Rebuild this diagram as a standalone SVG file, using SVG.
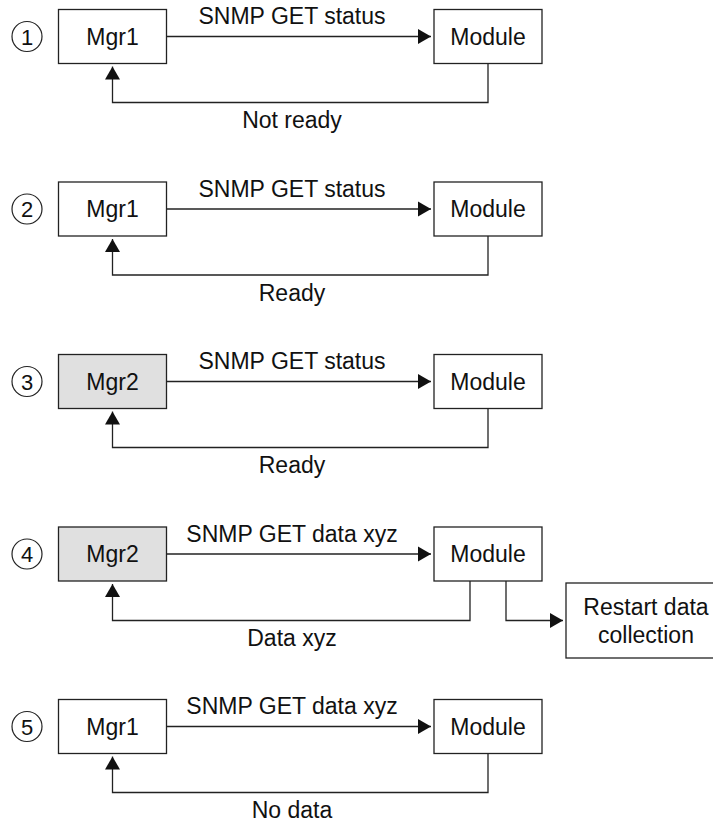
<svg xmlns="http://www.w3.org/2000/svg" width="713" height="825" viewBox="0 0 713 825">
<style>
.box{fill:#fff;stroke:#222;stroke-width:1.3}
.gray{fill:#e0e0e0}
.ln{fill:none;stroke:#222;stroke-width:1.3}
.num{fill:#fff;stroke:#222;stroke-width:1.2}
text{font-family:"Liberation Sans",Arial,Helvetica,sans-serif;font-size:23px;fill:#111;text-anchor:middle}
.d{font-size:22px}
</style>
<defs>
<marker id="ah" markerUnits="userSpaceOnUse" markerWidth="13" markerHeight="17" refX="13" refY="8.5" orient="auto">
<path d="M0,1 L13,8.5 L0,16 z" fill="#111"/>
</marker>
</defs>
<rect width="713" height="825" fill="#fff"/>
<g id="connectors">
<path class="ln" d="M166.5,36.5 H431" marker-end="url(#ah)"/>
<path class="ln" d="M488,63.5 V102.5 H112.5 V66.5" marker-end="url(#ah)"/>
<path class="ln" d="M166.5,209 H431" marker-end="url(#ah)"/>
<path class="ln" d="M488,236 V275 H112.5 V239" marker-end="url(#ah)"/>
<path class="ln" d="M166.5,381.5 H431" marker-end="url(#ah)"/>
<path class="ln" d="M488,408.5 V447.5 H112.5 V411.5" marker-end="url(#ah)"/>
<path class="ln" d="M166.5,554 H431" marker-end="url(#ah)"/>
<path class="ln" d="M470,581 V620.5 H112.5 V584" marker-end="url(#ah)"/>
<path class="ln" d="M506,581 V620.5 H563" marker-end="url(#ah)"/>
<path class="ln" d="M166.5,726.5 H431" marker-end="url(#ah)"/>
<path class="ln" d="M488,753.5 V792.5 H112.5 V756.5" marker-end="url(#ah)"/>
</g>
<g id="labels">
<text x="292" y="24">SNMP GET status</text>
<text x="292" y="128">Not ready</text>
<text x="292" y="196.5">SNMP GET status</text>
<text x="292" y="300.5">Ready</text>
<text x="292" y="369">SNMP GET status</text>
<text x="292" y="473">Ready</text>
<text x="292" y="541.5">SNMP GET data xyz</text>
<text x="292" y="645.5">Data xyz</text>
<text x="292" y="714">SNMP GET data xyz</text>
<text x="292" y="818">No data</text>
</g>
<g id="step1"><circle class="num" cx="27" cy="36.5" r="15"/><text class="d" x="27" y="44.5">1</text></g>
<g id="step2"><circle class="num" cx="27" cy="209" r="15"/><text class="d" x="27" y="217">2</text></g>
<g id="step3"><circle class="num" cx="27" cy="381.5" r="15"/><text class="d" x="27" y="389.5">3</text></g>
<g id="step4"><circle class="num" cx="27" cy="554" r="15"/><text class="d" x="27" y="562">4</text></g>
<g id="step5"><circle class="num" cx="27" cy="726.5" r="15"/><text class="d" x="27" y="734.5">5</text></g>
<g id="mgr1-a"><rect class="box" x="58.5" y="9.5" width="108" height="54"/><text x="112.5" y="44.5">Mgr1</text></g>
<g id="module-a"><rect class="box" x="434" y="9.5" width="108" height="54"/><text x="488" y="44.5">Module</text></g>
<g id="mgr1-b"><rect class="box" x="58.5" y="182" width="108" height="54"/><text x="112.5" y="217">Mgr1</text></g>
<g id="module-b"><rect class="box" x="434" y="182" width="108" height="54"/><text x="488" y="217">Module</text></g>
<g id="mgr2-c"><rect class="box gray" x="58.5" y="354.5" width="108" height="54"/><text x="112.5" y="389.5">Mgr2</text></g>
<g id="module-c"><rect class="box" x="434" y="354.5" width="108" height="54"/><text x="488" y="389.5">Module</text></g>
<g id="mgr2-d"><rect class="box gray" x="58.5" y="527" width="108" height="54"/><text x="112.5" y="562">Mgr2</text></g>
<g id="module-d"><rect class="box" x="434" y="527" width="108" height="54"/><text x="488" y="562">Module</text></g>
<g id="restart"><rect class="box" x="566" y="583" width="150" height="75"/><text x="646" y="615">Restart data</text><text x="646" y="643">collection</text></g>
<g id="mgr1-e"><rect class="box" x="58.5" y="699.5" width="108" height="54"/><text x="112.5" y="734.5">Mgr1</text></g>
<g id="module-e"><rect class="box" x="434" y="699.5" width="108" height="54"/><text x="488" y="734.5">Module</text></g>
</svg>
